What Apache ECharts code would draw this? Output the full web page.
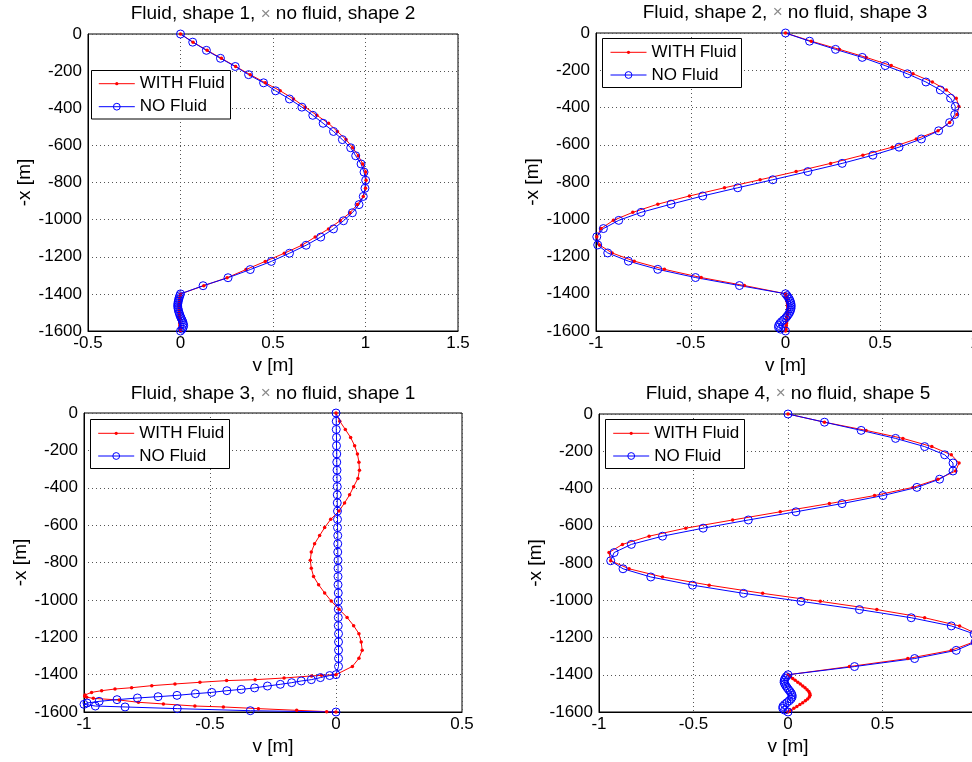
<!DOCTYPE html>
<html><head><meta charset="utf-8">
<script src="https://cdn.jsdelivr.net/npm/echarts@6/dist/echarts.min.js"></script>
<style>html,body{margin:0;padding:0;background:#fff}#c{width:972px;height:762px}</style>
</head><body><div id="c"></div>
<script>
// ---------- data ----------
const titles = [
  'Fluid, shape 1, {x|×} no fluid, shape 2',
  'Fluid, shape 2, {x|×} no fluid, shape 3',
  'Fluid, shape 3, {x|×} no fluid, shape 1',
  'Fluid, shape 4, {x|×} no fluid, shape 5'
];
const seriesNames = ['WITH Fluid', 'NO Fluid'];
const xRanges = [[-0.5, 1.5], [-1, 1], [-1, 0.5], [-1, 1]];
const yRange = [-1600, 0];

const depthTop = [0,-44,-88,-131,-175,-219,-263,-306,-350,-394,-438,-481,-525,-569,-613,-656,-700,-744,-788,-831,-875,-919,-963,-1006,-1050,-1094,-1138,-1181,-1225,-1269,-1313,-1356,-1400];
const depthBottom = [-1410,-1420,-1430,-1440,-1450,-1460,-1470,-1480,-1490,-1500,-1510,-1520,-1530,-1540,-1550,-1560,-1570,-1580,-1590,-1600];

const p1WithTop = [0,0.068,0.144,0.221,0.298,0.377,0.458,0.539,0.611,0.674,0.737,0.800,0.848,0.895,0.931,0.961,0.985,1.001,1.003,1.0,0.988,0.956,0.916,0.863,0.800,0.728,0.656,0.561,0.458,0.354,0.252,0.126,0];
const p1NoTop = [0,0.066,0.140,0.216,0.296,0.368,0.449,0.514,0.589,0.656,0.715,0.771,0.827,0.875,0.920,0.947,0.976,0.992,1.001,0.997,0.988,0.965,0.929,0.881,0.827,0.758,0.679,0.589,0.491,0.377,0.257,0.122,0];
const p1WithBottom = [-0.002,-0.003,-0.004,-0.005,-0.006,-0.006,-0.007,-0.007,-0.007,-0.007,-0.006,-0.006,-0.005,-0.005,-0.004,-0.004,-0.003,-0.002,-0.001,0];
const p1NoBottom = [-0.004,-0.007,-0.010,-0.012,-0.014,-0.015,-0.015,-0.013,-0.011,-0.008,-0.005,-0.001,0.003,0.008,0.012,0.015,0.017,0.015,0.009,0];

const p2WithTop = [0,0.136,0.285,0.426,0.558,0.673,0.775,0.849,0.901,0.915,0.905,0.866,0.805,0.690,0.563,0.408,0.238,0.056,-0.134,-0.322,-0.507,-0.674,-0.806,-0.908,-0.974,-0.996,-0.982,-0.915,-0.798,-0.639,-0.445,-0.217,0];
const p2NoTop = [0,0.127,0.264,0.405,0.526,0.643,0.741,0.817,0.871,0.896,0.893,0.866,0.808,0.717,0.599,0.461,0.299,0.118,-0.067,-0.252,-0.437,-0.604,-0.762,-0.880,-0.961,-0.996,-0.991,-0.938,-0.829,-0.674,-0.475,-0.243,0];
const p2WithBottom = [0.003,0.005,0.007,0.009,0.010,0.011,0.012,0.012,0.012,0.011,0.010,0.009,0.008,0.007,0.006,0.005,0.004,0.003,0.002,0];
const p2NoBottom = [0.008,0.015,0.021,0.025,0.028,0.030,0.030,0.029,0.026,0.022,0.016,0.009,0.001,-0.010,-0.021,-0.030,-0.036,-0.037,-0.026,0];

const p3WithTop = [0,0.015,0.037,0.058,0.074,0.085,0.091,0.093,0.087,0.070,0.054,0.034,0.012,-0.021,-0.045,-0.065,-0.085,-0.098,-0.102,-0.098,-0.089,-0.069,-0.045,-0.019,0.012,0.044,0.070,0.091,0.100,0.104,0.091,0.065,0];
const p3NoTop = [0,0.001,0.001,0.002,0.002,0.003,0.003,0.004,0.004,0.005,0.005,0.005,0.006,0.006,0.006,0.007,0.007,0.007,0.008,0.008,0.008,0.008,0.009,0.009,0.009,0.009,0.009,0.010,0.010,0.010,0.010,0.010,0];
const p3WithTailV = [-0.058,-0.097,-0.206,-0.321,-0.434,-0.540,-0.639,-0.731,-0.811,-0.877,-0.930,-0.970,-0.996,-0.997,-0.989,-0.963,-0.860,-0.784,-0.685,-0.560,-0.447,-0.308,-0.156,-0.037,0];
const p3WithTailDepth = [-1404,-1407,-1418,-1427,-1432,-1441,-1450,-1459,-1470,-1477,-1486,-1495,-1509,-1516,-1521,-1527,-1536,-1548,-1557,-1568,-1573,-1582,-1591,-1598,-1600];
const p3NoTailV = [-0.025,-0.062,-0.098,-0.138,-0.176,-0.221,-0.272,-0.323,-0.376,-0.433,-0.493,-0.558,-0.631,-0.706,-0.788,-0.869,-0.940,-0.988,-1.0,-0.955,-0.837,-0.630,-0.340,0];
const p3NoTailDepth = [-1405,-1416,-1427,-1434,-1443,-1452,-1461,-1471,-1479,-1486,-1495,-1502,-1511,-1518,-1525,-1534,-1543,-1552,-1559,-1568,-1573,-1582,-1593,-1600];

const p4WithTop = [0,0.193,0.413,0.608,0.761,0.864,0.905,0.887,0.793,0.661,0.458,0.219,-0.041,-0.293,-0.541,-0.735,-0.876,-0.947,-0.938,-0.841,-0.664,-0.417,-0.134,0.171,0.470,0.723,0.908,1.0,0.980,0.864,0.634,0.325,0];
const p4NoTop = [0,0.193,0.387,0.569,0.723,0.829,0.873,0.873,0.802,0.682,0.502,0.286,0.042,-0.210,-0.449,-0.664,-0.829,-0.920,-0.938,-0.873,-0.726,-0.505,-0.235,0.069,0.378,0.652,0.864,0.985,0.990,0.890,0.670,0.352,0];
const p4WithBottom = [0.012,0.025,0.038,0.052,0.065,0.078,0.090,0.101,0.110,0.115,0.117,0.113,0.104,0.092,0.078,0.063,0.047,0.031,0.015,0];
const p4NoBottom = [-0.009,-0.016,-0.020,-0.021,-0.017,-0.011,-0.004,0.003,0.011,0.018,0.022,0.022,0.016,0.006,-0.006,-0.018,-0.027,-0.028,-0.018,0];

// ---------- build ----------
function pairs(xs, ys) { return xs.map((v, i) => [v, ys[i]]); }
const withData = [
  pairs(p1WithTop, depthTop).concat(pairs(p1WithBottom, depthBottom)),
  pairs(p2WithTop, depthTop).concat(pairs(p2WithBottom, depthBottom)),
  pairs(p3WithTop, depthTop).concat(pairs(p3WithTailV, p3WithTailDepth)),
  pairs(p4WithTop, depthTop).concat(pairs(p4WithBottom, depthBottom))
];
const noData = [
  pairs(p1NoTop, depthTop).concat(pairs(p1NoBottom, depthBottom)),
  pairs(p2NoTop, depthTop).concat(pairs(p2NoBottom, depthBottom)),
  pairs(p3NoTop, depthTop).concat(pairs(p3NoTailV, p3NoTailDepth)),
  pairs(p4NoTop, depthTop).concat(pairs(p4NoBottom, depthBottom))
];

const FONT = '"Liberation Sans", Arial, Helvetica, sans-serif';
const layout = [
  {grid:{left:88, top:34, width:370, height:297}, titleX:273, titleTop:4.5, legX:98.3, rows:[83.7,106.7], box:[91.5,70.5,139,48.5]},
  {grid:{left:596, top:33, width:379, height:298}, titleX:785, titleTop:2.8, legX:610, rows:[52.3,75], box:[602.5,38.5,139,49]},
  {grid:{left:84, top:413, width:378, height:299}, titleX:273, titleTop:383.8, legX:97.7, rows:[433.3,456], box:[90.5,419.5,139,49]},
  {grid:{left:599, top:414, width:378, height:298}, titleX:788, titleTop:383.8, legX:612.7, rows:[433.3,456], box:[605.5,419.5,139,49]}
];
const plain = v => String(v);

const option = {
  animation: false,
  backgroundColor: '#fff',
  title: layout.map((L, i) => ({
    text: titles[i], left: L.titleX, top: L.titleTop, textAlign: 'center', padding: 0,
    textStyle: {fontSize: 19, fontWeight: 'normal', fontFamily: FONT, color: '#000',
      rich: {x: {fontSize: 17, color: '#8a8a8a', fontFamily: FONT}}}
  })),
  grid: layout.map(L => Object.assign({show: true, borderColor: '#000', borderWidth: 1, backgroundColor: 'transparent', containLabel: false, outerBoundsMode: 'none'}, L.grid)),
  xAxis: layout.map((L, i) => ({
    gridIndex: i, type: 'value', min: xRanges[i][0], max: xRanges[i][1], interval: 0.5,
    name: 'v [m]', nameLocation: 'middle', nameGap: 25,
    nameTextStyle: {fontSize: 19, fontFamily: FONT, color: '#000'},
    axisLine: {show: true, onZero: false, lineStyle: {color: '#000', width: 1}},
    axisTick: {show: false},
    axisLabel: {fontSize: 17, fontFamily: FONT, color: '#000', margin: 4, showMinLabel: true, showMaxLabel: true, formatter: plain},
    splitLine: {show: true, lineStyle: {color: '#555', type: [1, 3], width: 1}}
  })),
  yAxis: layout.map((L, i) => ({
    gridIndex: i, type: 'value', min: yRange[0], max: yRange[1], interval: 200,
    name: '-x [m]', nameLocation: 'middle', nameGap: 54, nameRotate: 90,
    nameTextStyle: {fontSize: 19, fontFamily: FONT, color: '#000'},
    axisLine: {show: true, onZero: false, lineStyle: {color: '#000', width: 1}},
    axisTick: {show: false},
    axisLabel: {fontSize: 17, fontFamily: FONT, color: '#000', margin: 6, showMinLabel: true, showMaxLabel: true, formatter: plain},
    splitLine: {show: true, lineStyle: {color: '#555', type: [1, 3], width: 1}}
  })),
  legend: [],
  graphic: {elements: layout.map(L => ({
    type: 'rect', z: 5, silent: true,
    shape: {x: L.box[0], y: L.box[1], width: L.box[2], height: L.box[3]},
    style: {fill: '#fff', stroke: '#000', lineWidth: 1}
  }))},
  series: []
};

layout.forEach((L, i) => {
  option.legend.push({
    data: [seriesNames[0]], orient: 'vertical', left: L.legX, top: L.rows[0] - 8.5, padding: 0,
    itemWidth: 36, itemHeight: 4, itemGap: 0, selectedMode: false, z: 6,
    itemStyle: {borderWidth: 0}, lineStyle: {width: 1},
    textStyle: {fontSize: 17, fontFamily: FONT, color: '#000', lineHeight: 17}
  });
  option.legend.push({
    data: [seriesNames[1]], orient: 'vertical', left: L.legX, top: L.rows[1] - 8.5, padding: 0,
    itemWidth: 36, itemHeight: 8.5, itemGap: 0, selectedMode: false, z: 6,
    itemStyle: {borderWidth: 1}, lineStyle: {width: 1},
    textStyle: {fontSize: 17, fontFamily: FONT, color: '#000', lineHeight: 17}
  });
  option.series.push({
    type: 'line', name: seriesNames[0], xAxisIndex: i, yAxisIndex: i, data: withData[i],
    symbol: 'circle', symbolSize: 3.5, showSymbol: true, silent: true, z: 2,
    lineStyle: {color: '#ff0000', width: 1}, itemStyle: {color: '#ff0000'}
  });
  option.series.push({
    type: 'line', name: seriesNames[1], xAxisIndex: i, yAxisIndex: i, data: noData[i],
    symbol: 'circle', symbolSize: 8, showSymbol: true, silent: true, z: 2,
    lineStyle: {color: '#0000ff', width: 1},
    itemStyle: {color: 'rgba(0,0,0,0)', borderColor: '#0000ff', borderWidth: 1}
  });
});

const chart = echarts.init(document.getElementById('c'), null, {renderer: 'canvas'});
chart.setOption(option);
</script>
</body></html>
